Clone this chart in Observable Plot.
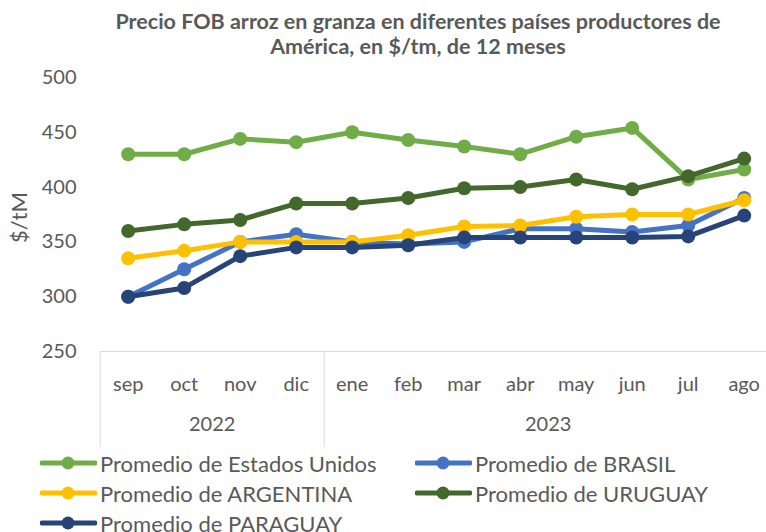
<!DOCTYPE html>
<html>
<head>
<meta charset="utf-8">
<script src="https://cdn.jsdelivr.net/npm/d3@7"></script>
<script src="https://cdn.jsdelivr.net/npm/@observablehq/plot@0.6"></script>
<style>
  body { margin: 0; background: #fff; font-family: Lato, "Liberation Sans", sans-serif; color: #595959; }
  #wrap { width: 766px; height: 532px; position: relative; overflow: hidden; background: #fff; }
  #title { position: absolute; top: 9px; left: 70px; width: 696px; text-align: center; font-weight: bold; font-size: 21.5px; line-height: 25px; color: #595959; }
  #chart { position: absolute; top: 62px; left: 0; }
  #legend { position: absolute; top: 448px; left: 40px; display: grid; grid-template-columns: 375px auto; grid-auto-rows: 30px; font-size: 22px; color: #595959; }
  .item { display: flex; align-items: center; white-space: nowrap; }
  .item svg { margin-right: 3px; }
</style>
</head>
<body>
<div id="wrap">
  <div id="title">Precio FOB arroz en granza en diferentes países productores de<br>América, en $/tm, de 12 meses</div>
  <div id="chart"></div>
  <div id="legend"></div>
</div>
<script>
const months = ["sep", "oct", "nov", "dic", "ene", "feb", "mar", "abr", "may", "jun", "jul", "ago"];
const years = ["2022", "2023"];
const monthsPerYear = [4, 8];
const yTicks = [250, 300, 350, 400, 450, 500];
const yLabel = "$/tM";

const seriesNames = ["Promedio de Estados Unidos", "Promedio de BRASIL", "Promedio de ARGENTINA", "Promedio de URUGUAY", "Promedio de PARAGUAY"];
const seriesColors = ["#70AD47", "#4472C4", "#FFC000", "#43682B", "#264478"];
const estadosUnidos = [430, 430, 444, 441, 450, 443, 437, 430, 446, 454, 407, 416];
const brasil        = [300, 325, 350, 357, 350, 348, 350, 362, 362, 359, 365, 390];
const argentina     = [335, 342, 350, 350, 350, 356, 364, 365, 373, 375, 375, 388];
const uruguay       = [360, 366, 370, 385, 385, 390, 399, 400, 407, 398, 410, 426];
const paraguay      = [300, 308, 337, 345, 345, 347, 354, 354, 354, 354, 355, 374];
const seriesValues = [estadosUnidos, brasil, argentina, uruguay, paraguay];

// Build tables
const series = seriesNames.map((name, s) => ({
  name, color: seriesColors[s],
  data: seriesValues[s].map((v, i) => ({ i, month: months[i], value: v }))
}));

// Year group boundaries and centers (in category-index units)
const boundaries = [];
const yearCenters = [];
let start = 0;
years.forEach((yr, k) => {
  boundaries.push(start - 0.5);
  yearCenters.push({ year: yr, x: start + (monthsPerYear[k] - 1) / 2 });
  start += monthsPerYear[k];
});

const gridColor = "#D9D9D9";
const marks = [
  Plot.ruleY([yTicks[0]], { stroke: gridColor, strokeWidth: 1 }),
  Plot.ruleX(boundaries, { x: d => d, stroke: gridColor, strokeWidth: 1, insetTop: 274, insetBottom: -96 }),
  Plot.text(yearCenters, { x: "x", text: "year", frameAnchor: "bottom", dy: 79, fontSize: 20, fill: "#595959" }),
  Plot.axisX(d3.range(months.length), { tickFormat: i => months[i], tickSize: 0, tickPadding: 25, fontSize: 20, label: null }),
  Plot.axisY(yTicks, { tickSize: 0, tickPadding: 24, fontSize: 20, label: null }),
  Plot.text([yLabel], { text: d => d, frameAnchor: "left", textAnchor: "middle", dx: -81, dy: 3, rotate: -90, fontSize: 22, fill: "#595959" })
];
series.forEach(s => {
  marks.push(Plot.line(s.data, { x: "i", y: "value", stroke: s.color, strokeWidth: 5, strokeLinejoin: "round", strokeLinecap: "round" }));
  marks.push(Plot.dot(s.data, { x: "i", y: "value", fill: s.color, r: 7 }));
});

const chart = Plot.plot({
  width: 766,
  height: 390,
  marginTop: 15,
  marginBottom: 101,
  marginLeft: 100,
  marginRight: 0,
  style: { fontFamily: "Lato, 'Liberation Sans', sans-serif", fontSize: "20px", color: "#595959", background: "transparent", overflow: "visible" },
  x: { type: "linear", domain: [-0.5, months.length - 0.5], range: [99.7, 771.7] },
  y: { domain: [yTicks[0], yTicks[yTicks.length - 1]] },
  marks
});
document.getElementById("chart").appendChild(chart);

// Legend
const legend = document.getElementById("legend");
series.forEach(s => {
  const item = document.createElement("div");
  item.className = "item";
  item.innerHTML = `<svg width="57" height="16"><line x1="2" y1="8" x2="55" y2="8" stroke="${s.color}" stroke-width="5" stroke-linecap="round"/><circle cx="28" cy="8" r="6.5" fill="${s.color}"/></svg><span>${s.name}</span>`;
  legend.appendChild(item);
});
</script>
</body>
</html>
